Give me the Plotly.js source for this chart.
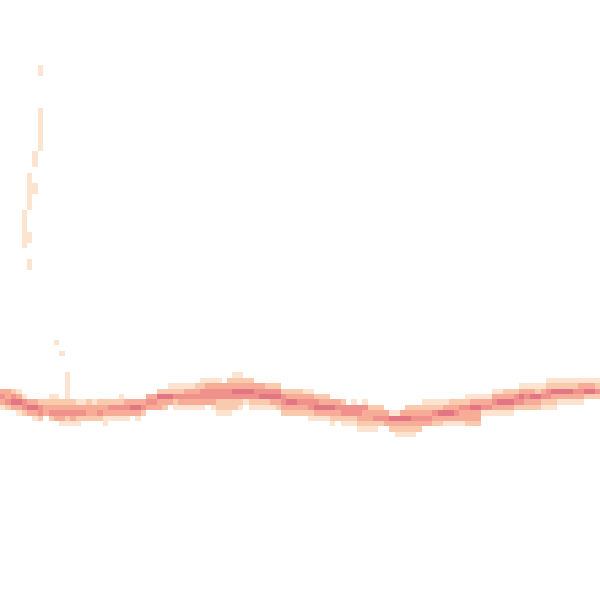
<!DOCTYPE html>
<html>
<head>
<meta charset="utf-8">
<script src="https://cdn.plot.ly/plotly-3.0.1.min.js"></script>
<style>
  html, body { margin: 0; padding: 0; background: #fff; }
  #chart { width: 600px; height: 600px; }
</style>
</head>
<body>
<div id="chart"></div>
<script>
// grid size (bins across and down)
var nCols = 111;
var nRows = 111;

// band: first row of each column, then the count level of each cell going down
var bandTop = [
  72, 72, 72, 72, 73, 74, 74, 74, 74, 73,
  73, 74, 69, 74, 74, 74, 74, 74, 74, 74,
  74, 74, 73, 74, 74, 74, 74, 73, 73, 72,
  72, 71, 71, 71, 71, 71, 71, 70, 70, 70,
  70, 71, 70, 69, 69, 70, 70, 71, 71, 71,
  71, 71, 72, 72, 72, 72, 72, 72, 73, 73,
  73, 74, 74, 74, 75, 74, 75, 74, 75, 75,
  75, 76, 76, 76, 76, 75, 75, 75, 74, 74,
  74, 74, 74, 74, 74, 74, 73, 73, 73, 73,
  73, 72, 72, 72, 72, 72, 71, 71, 71, 71,
  71, 70, 70, 70, 70, 70, 70, 70, 70, 70,
  70
];
var bandLevels = [
  "3431", "3342", "2453", "13531", "1442", "353", "3531", "2442", "233", "12342",
  "12343", "23431", "1111123421", "23431", "13421", "1342", "2332", "1332", "2342", "23311",
  "2431", "2431", "12431", "3431", "353", "3531", "342", "343", "343", "2533",
  "2532", "1253", "12421", "12431", "13431", "13431", "23431", "124431", "13443", "134431",
  "1344221", "344221", "2344221", "1235422", "1235421", "23541", "235421", "34421", "34521", "24521",
  "24531", "24532", "24432", "23532", "23532", "23432", "13432", "134421", "24531", "23531",
  "23531", "35321", "3432", "24421", "4421", "14421", "44321", "143321", "23321", "23421",
  "2342", "343", "1532", "15321", "35321", "235321", "234321", "23432", "12343", "12343",
  "12432", "12532", "13531", "23531", "23431", "24331", "124332", "135332", "135332", "1341",
  "1341", "13431", "13531", "23531", "23531", "2442", "13542", "13432", "13532", "12532",
  "13421", "124421", "125321", "12531", "12531", "12531", "12431", "13431", "1352", "1352",
  "1242"
];

// stray cells above the band (all at the lowest level)
var strayCol = [7, 7, 7, 7, 7, 7, 7, 7, 7, 7,
  6, 6, 6, 6, 6,
  5, 5, 5, 5, 5, 5, 5, 5, 5, 5, 5,
  4, 4, 4, 4, 4, 4, 4,
  10, 11];
var strayRow = [12, 13, 20, 21, 22, 23, 24, 25, 26, 27,
  28, 29, 30, 34, 35,
  32, 33, 34, 35, 36, 37, 38, 43, 44, 48, 49,
  39, 40, 41, 42, 43, 44, 45,
  63, 65];

// build the z matrix for the heatmap
var z = [];
for (var r = 0; r < nRows; r++) {
  var row = [];
  for (var c = 0; c < nCols; c++) row.push(null);
  z.push(row);
}
for (var i = 0; i < strayCol.length; i++) {
  z[strayRow[i]][strayCol[i]] = 1;
}
for (var c = 0; c < nCols; c++) {
  var s = bandLevels[c];
  for (var k = 0; k < s.length; k++) {
    z[bandTop[c] + k][c] = Number(s[k]);
  }
}

var xs = [], ys = [];
for (var c = 0; c < nCols; c++) xs.push(c);
for (var r = 0; r < nRows; r++) ys.push(r);

var data = [
  {
    type: "heatmap",
    x: xs,
    y: ys,
    z: z,
    zmin: 1,
    zmax: 5,
    showscale: false,
    hoverongaps: false,
    colorscale: [
      [0, "rgb(253,228,208)"],
      [0.25, "rgb(250,202,175)"],
      [0.5, "rgb(246,172,150)"],
      [0.75, "rgb(240,145,140)"],
      [1, "rgb(226,118,132)"]
    ]
  }
];

var layout = {
  width: 600,
  height: 600,
  margin: { l: 0, r: 0, t: 0, b: 0 },
  paper_bgcolor: "#fff",
  plot_bgcolor: "#fff",
  xaxis: { range: [-0.5, nCols - 0.5], visible: false, showgrid: false, zeroline: false },
  yaxis: { range: [nRows - 0.389, -0.5], visible: false, showgrid: false, zeroline: false },
  showlegend: false
};

Plotly.newPlot("chart", data, layout, { displayModeBar: false, staticPlot: true });
</script>
</body>
</html>
